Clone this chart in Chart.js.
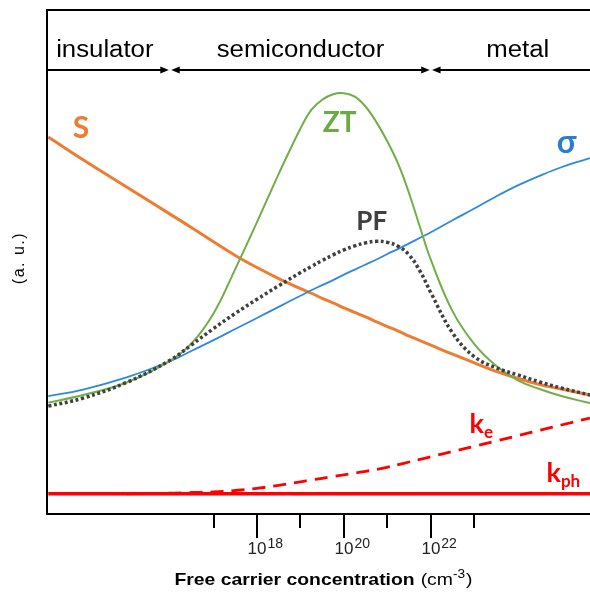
<!DOCTYPE html>
<html><head><meta charset="utf-8">
<script src="https://cdn.jsdelivr.net/npm/chart.js@4/dist/chart.umd.min.js"></script>
<style>html,body{margin:0;padding:0;background:#fff;}canvas{display:block;}</style>
</head><body>
<canvas id="c" width="590" height="595"></canvas>
<script>
// log10 of free carrier concentration (cm^-3)
const exponents = [13.2,14,15,16,16.5,17,17.5,18,18.5,19,19.25,19.5,19.75,20,20.25,20.5,20.75,21,21.25,21.5,21.75,22,22.5,23,23.5,24,24.5,25,25.66];
// values in arbitrary units
const seebeck = [74.8,70.3,64.9,59.5,56.8,54.0,51.3,48.9,46.7,44.7,43.8,42.8,41.9,40.9,40.0,39.1,38.1,37.2,36.3,35.3,34.4,33.5,31.7,30.0,28.3,26.9,25.7,24.8,23.6];
const sigma   = [23.4,24.7,27.1,30.3,32.4,34.5,36.7,38.9,41.1,43.3,44.4,45.4,46.4,47.5,48.5,49.5,50.5,51.6,52.6,53.7,54.8,55.9,58.3,60.6,63.0,65.2,67.1,68.8,70.6];
const zt      = [22.1,23.6,26.1,30.4,33.9,39.8,48.6,57.9,67.5,76.5,80.2,82.2,83.3,83.5,82.8,80.8,77.7,73.9,69.4,63.6,56.9,50.4,40.2,33.7,29.4,26.5,24.8,23.4,22.0];
const pf      = [21.4,23.0,26.1,30.5,33.6,36.8,39.8,42.6,45.3,47.9,49.1,50.3,51.4,52.4,53.2,53.8,54.1,53.9,53.1,51.4,48.2,43.9,35.9,31.2,29.0,27.6,26.2,25.0,23.6];
const kappaE  = [null,null,4.0,4.13,4.27,4.38,4.66,5.10,5.69,6.39,6.75,7.08,7.42,7.78,8.13,8.47,8.83,9.29,9.80,10.32,10.83,11.37,12.40,13.43,14.48,15.56,16.61,17.66,19.05];
const kappaPh = [4.0,4.0,4.0,4.0,4.0,4.0,4.0,4.0,4.0,4.0,4.0,4.0,4.0,4.0,4.0,4.0,4.0,4.0,4.0,4.0,4.0,4.0,4.0,4.0,4.0,4.0,4.0,4.0,4.0];

const majorTicks = [18,20,22];
const minorTicks = [17,19,21,23];
const regionBounds = [16,22];
const regionLabels = ['insulator','semiconductor','metal'];
const regionLabelAt = [14.5,19,24];
const curveLabels = ['S','ZT','PF','σ'];
const curveLabelAt = [[13.95,76.6],[19.9,77.6],[20.64,58.1],[25.12,73.6]];
const kLabelSubs = ['e','ph'];
const kLabelAt = [[22.89,16.1],[24.66,6.3]];

const C_ORANGE = '#ED7D31', C_BLUE = '#2E8AD8', C_GREEN = '#72AE48', C_GRAY = '#404040', C_RED = '#FF0000';

function pts(vals){ return exponents.map((e,i)=>({x:e, y:vals[i]})); }

const decor = {
  id:'decor',
  afterDatasetsDraw(chart){
    const {ctx, chartArea:ca, scales:{x,y}} = chart;
    ctx.save();
    // frame
    ctx.strokeStyle='#000'; ctx.lineWidth=2; ctx.lineCap='butt';
    ctx.beginPath();
    ctx.moveTo(ca.right+2, ca.top); ctx.lineTo(ca.left, ca.top); ctx.lineTo(ca.left, ca.bottom); ctx.lineTo(ca.right+2, ca.bottom);
    ctx.stroke();
    // region arrows
    const ay = 70;
    const tipGap = 1.2, headLen = 8.5, headH = 3.6;
    let start = ca.left;
    ctx.fillStyle='#000';
    regionBounds.forEach(b=>{
      const px = x.getPixelForValue(b);
      ctx.beginPath(); ctx.moveTo(start, ay); ctx.lineTo(px-tipGap-headLen+1, ay); ctx.stroke();
      ctx.beginPath(); ctx.moveTo(px-tipGap, ay); ctx.lineTo(px-tipGap-headLen, ay-headH); ctx.lineTo(px-tipGap-headLen, ay+headH); ctx.closePath(); ctx.fill();
      ctx.beginPath(); ctx.moveTo(px+tipGap, ay); ctx.lineTo(px+tipGap+headLen, ay-headH); ctx.lineTo(px+tipGap+headLen, ay+headH); ctx.closePath(); ctx.fill();
      start = px+tipGap+headLen-1;
    });
    ctx.beginPath(); ctx.moveTo(start, ay); ctx.lineTo(ca.right+2, ay); ctx.stroke();
    // region labels
    ctx.font = '23px "Liberation Sans", Arial, sans-serif';
    ctx.textAlign='center'; ctx.textBaseline='alphabetic'; ctx.fillStyle='#000';
    regionLabels.forEach((t,i)=>{
      ctx.save(); ctx.translate(x.getPixelForValue(regionLabelAt[i]), 57); ctx.scale(1.12,1);
      ctx.fillText(t,0,0); ctx.restore();
    });
    // ticks
    ctx.lineWidth=2;
    majorTicks.forEach(t=>{ const px=Math.round(x.getPixelForValue(t)); ctx.beginPath(); ctx.moveTo(px, ca.bottom); ctx.lineTo(px, ca.bottom+24); ctx.stroke(); });
    minorTicks.forEach(t=>{ const px=Math.round(x.getPixelForValue(t)); ctx.beginPath(); ctx.moveTo(px, ca.bottom); ctx.lineTo(px, ca.bottom+14); ctx.stroke(); });
    // tick labels
    ctx.fillStyle='#222';
    majorTicks.forEach(t=>{
      const px = x.getPixelForValue(t);
      ctx.font='17px "Liberation Sans", Arial, sans-serif'; ctx.textAlign='center';
      ctx.fillText('10', px, ca.bottom+40);
      const w = ctx.measureText('10').width;
      ctx.font='14px "Liberation Sans", Arial, sans-serif'; ctx.textAlign='left';
      ctx.fillText(String(t), px+w/2+1, ca.bottom+34);
    });
    // x title
    ctx.fillStyle='#000';
    const sx = 1.14;
    ctx.font='bold 17px "Liberation Sans", Arial, sans-serif'; ctx.textAlign='left';
    const t1='Free carrier concentration';
    const w1=ctx.measureText(t1).width*sx;
    ctx.font='17px "Liberation Sans", Arial, sans-serif';
    const w2=ctx.measureText('(cm').width*sx, w4=ctx.measureText(')').width*sx;
    ctx.font='12px "Liberation Sans", Arial, sans-serif';
    const w3=ctx.measureText('-3').width*sx;
    const total = w1+6+w2+w3+1+w4;
    let tx = (ca.left+ca.right)/2 + 5 - total/2;
    const by = 585;
    const seg=(txt,font,yy)=>{ ctx.font=font; ctx.save(); ctx.translate(tx,yy); ctx.scale(sx,1); ctx.fillText(txt,0,0); ctx.restore(); };
    seg(t1,'bold 17px "Liberation Sans", Arial, sans-serif',by); tx+=w1+6;
    seg('(cm','17px "Liberation Sans", Arial, sans-serif',by); tx+=w2;
    seg('-3','12px "Liberation Sans", Arial, sans-serif',by-7); tx+=w3+1;
    seg(')','17px "Liberation Sans", Arial, sans-serif',by);
    // y title
    ctx.save(); ctx.translate(20, 258); ctx.rotate(-Math.PI/2);
    ctx.font='16px "Liberation Sans", Arial, sans-serif'; ctx.textAlign='center'; ctx.textBaseline='middle';
    try{ ctx.letterSpacing='1.5px'; }catch(e){}
    ctx.fillText('(a. u.)',0,0); ctx.restore();
    // curve labels
    const lblColors=[C_ORANGE,'#6AAB43',C_GRAY,'#2A7FCC'];
    const lblSizes=[30,28,26,32];
    ctx.textAlign='center'; ctx.textBaseline='middle';
    curveLabels.forEach((t,i)=>{
      ctx.font='bold '+lblSizes[i]+'px Lato, "DejaVu Sans", sans-serif';
      ctx.fillStyle=lblColors[i];
      ctx.fillText(t, x.getPixelForValue(curveLabelAt[i][0]), y.getPixelForValue(curveLabelAt[i][1]));
    });
    // kappa labels
    ctx.fillStyle=C_RED; ctx.textAlign='left'; ctx.textBaseline='alphabetic';
    kLabelSubs.forEach((s,i)=>{
      const px=x.getPixelForValue(kLabelAt[i][0]), py=y.getPixelForValue(kLabelAt[i][1]);
      ctx.font='bold 27px Lato, "DejaVu Sans", sans-serif';
      ctx.fillText('k',px,py);
      const w=ctx.measureText('k').width;
      ctx.font='bold 17px Lato, "DejaVu Sans", sans-serif';
      ctx.fillText(s,px+w,py+5);
    });
    ctx.restore();
  }
};

const common = {pointRadius:0, fill:false, tension:0.4, spanGaps:false};
new Chart(document.getElementById('c'), {
  type:'line',
  data:{ datasets:[
    {label:'S', data:pts(seebeck), borderColor:C_ORANGE, borderWidth:3, order:6, ...common},
    {label:'σ', data:pts(sigma), borderColor:C_BLUE, borderWidth:1.8, order:5, ...common},
    {label:'ZT', data:pts(zt), borderColor:C_GREEN, borderWidth:2, order:4, ...common},
    {label:'PF', data:pts(pf), borderColor:C_GRAY, borderWidth:3.5, borderDash:[3,2.6], order:3, ...common},
    {label:'ke', data:pts(kappaE), borderColor:C_RED, borderWidth:2.8, borderDash:[13,8], order:2, ...common},
    {label:'kph', data:pts(kappaPh), borderColor:C_RED, borderWidth:3.5, order:1, ...common}
  ]},
  options:{
    responsive:false, animation:false, devicePixelRatio:1,
    layout:{padding:{left:47, top:10, right:0, bottom:81}},
    plugins:{legend:{display:false}, tooltip:{enabled:false}},
    scales:{
      x:{type:'linear', min:13.17, max:25.66, display:false},
      y:{type:'linear', min:0, max:100, display:false}
    }
  },
  plugins:[decor]
});
</script>
</body></html>
